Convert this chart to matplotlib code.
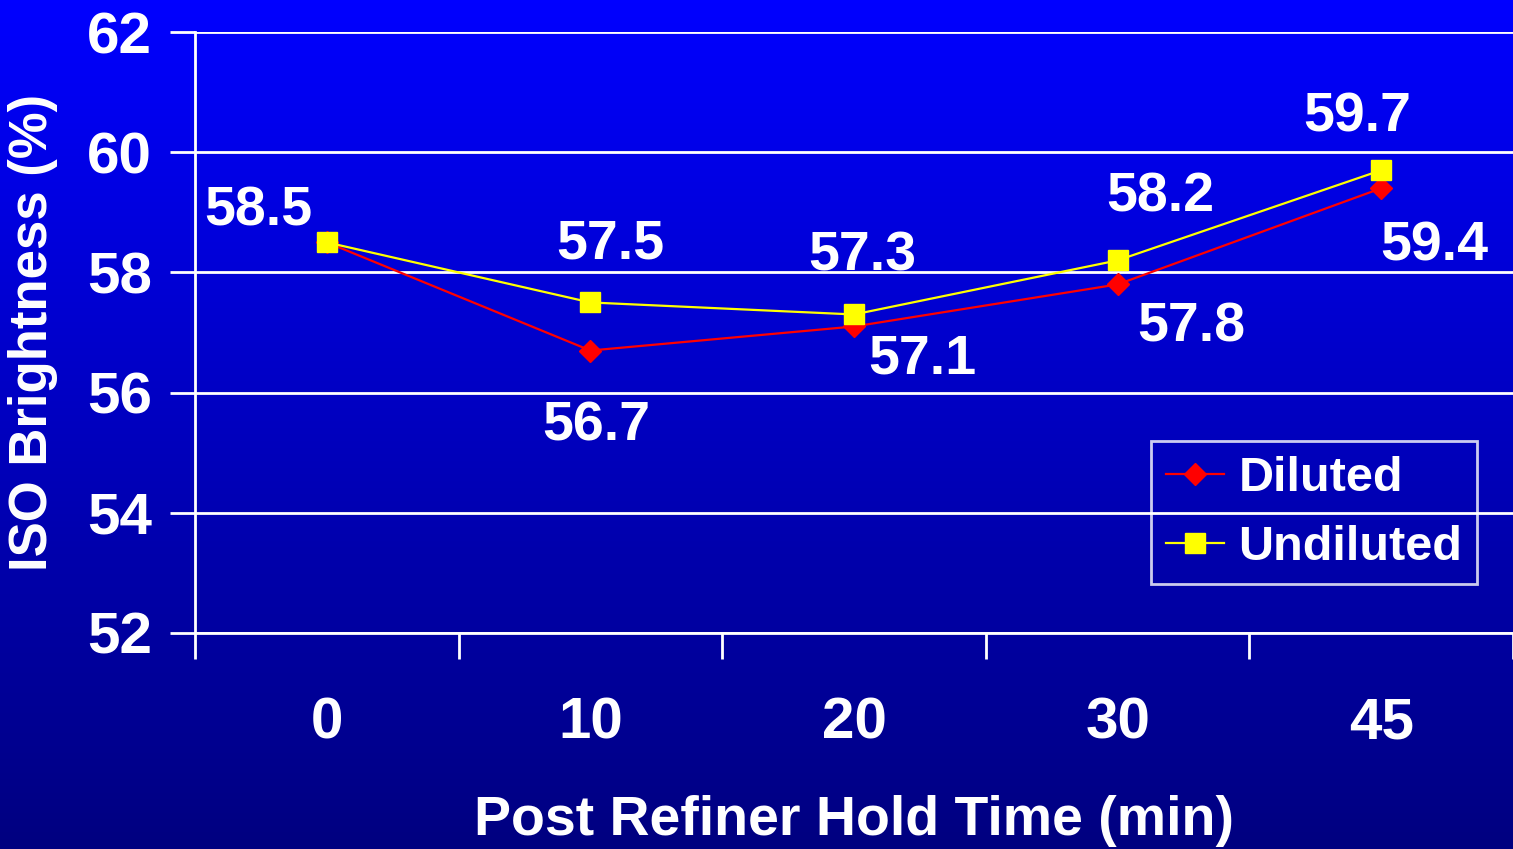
import numpy as np
import matplotlib
matplotlib.use("Agg")
import matplotlib.pyplot as plt
from matplotlib.colors import LinearSegmentedColormap

categories = ["0", "10", "20", "30", "45"]
diluted = [58.5, 56.7, 57.1, 57.8, 59.4]
undiluted = [58.5, 57.5, 57.3, 58.2, 59.7]
y_ticks = [52, 54, 56, 58, 60, 62]

# label offsets in points (layout only)
dil_offsets = [None, (4, -55), (49, -24), (53, -31), (38, -42)]
und_offsets = [(-49, 22), (14, 42), (6, 42), (31, 45), (-17, 38)]

plt.rcParams['font.family'] = ['Liberation Sans', 'DejaVu Sans']
plt.rcParams['font.weight'] = 'bold'

W, H = 1513, 849
fig = plt.figure(figsize=(W / 100, H / 100), dpi=100)

# gradient background
bg = fig.add_axes([0, 0, 1, 1], zorder=-10)
cmap = LinearSegmentedColormap.from_list("bg", ["#0000FF", "#000080"])
grad = np.linspace(0, 1, 256).reshape(-1, 1)
bg.imshow(grad, aspect="auto", cmap=cmap, extent=[0, 1, 0, 1], origin="upper")
bg.axis("off")

left = 195 / W
bottom = (H - 633) / H
top = (H - 32) / H
ax = fig.add_axes([left, bottom, 1 - left, top - bottom])
ax.set_facecolor("none")

x = np.arange(len(categories))
ax.plot(x, diluted, color="#FF0000", lw=1.6, marker="D", markersize=11.5,
        markerfacecolor="#FF0000", markeredgecolor="#FF0000", label="Diluted", zorder=3)
ax.plot(x, undiluted, color="#FFFF00", lw=1.6, marker="s", markersize=14,
        markerfacecolor="#FFFF00", markeredgecolor="#FFFF00", label="Undiluted", zorder=4)

ax.set_xlim(-0.5, -0.5 + (W - 195) / 266.4)
ax.set_ylim(52, 62)
ax.set_yticks(y_ticks)
ax.set_xticks(x)
ax.set_xticklabels(categories)
ax.set_xticks(np.arange(-0.5, len(categories), 1.0), minor=True)

ax.tick_params(axis="x", which="major", length=0, pad=46, labelsize=42, labelcolor="white")
ax.tick_params(axis="x", which="minor", length=19, width=2, color="white", direction="out")
ax.tick_params(axis="y", which="major", length=18, width=2, color="white", direction="out",
               pad=13, labelsize=42, labelcolor="white")

ax.yaxis.grid(True, color="white", lw=2)
ax.set_axisbelow(True)

for s in ["top", "right"]:
    ax.spines[s].set_visible(False)
ax.spines["left"].set_color("white")
ax.spines["left"].set_linewidth(2)
ax.spines["bottom"].set_color("white")
ax.spines["bottom"].set_linewidth(2)

ax.set_ylabel("ISO Brightness (%)", color="white", fontsize=38, fontweight="bold", labelpad=21)
ax.set_xlabel("Post Refiner Hold Time (min)", color="white", fontsize=40, fontweight="bold",
              labelpad=32)

for i, (v, off) in enumerate(zip(diluted, dil_offsets)):
    if off is None:
        continue
    ax.annotate(f"{v:.1f}", (x[i], v), xytext=off, textcoords="offset points",
                ha="center", va="center", color="white", fontsize=40, fontweight="bold", zorder=5)
for i, (v, off) in enumerate(zip(undiluted, und_offsets)):
    ax.annotate(f"{v:.1f}", (x[i], v), xytext=off, textcoords="offset points",
                ha="center", va="center", color="white", fontsize=40, fontweight="bold", zorder=5)

ax_w = W - 195
ax_h = 633 - 32
leg = ax.legend(loc="upper right",
                bbox_to_anchor=((1477 - 195) / ax_w, (633 - 441) / ax_h),
                borderaxespad=0, frameon=True, fancybox=False, fontsize=35,
                handlelength=1.2, handletextpad=0.3, labelspacing=0.5,
                borderpad=0.3, labelcolor="white")
frame = leg.get_frame()
frame.set_facecolor("none")
frame.set_edgecolor("white")
frame.set_linewidth(2)

fig.savefig("out.png", dpi=100)
